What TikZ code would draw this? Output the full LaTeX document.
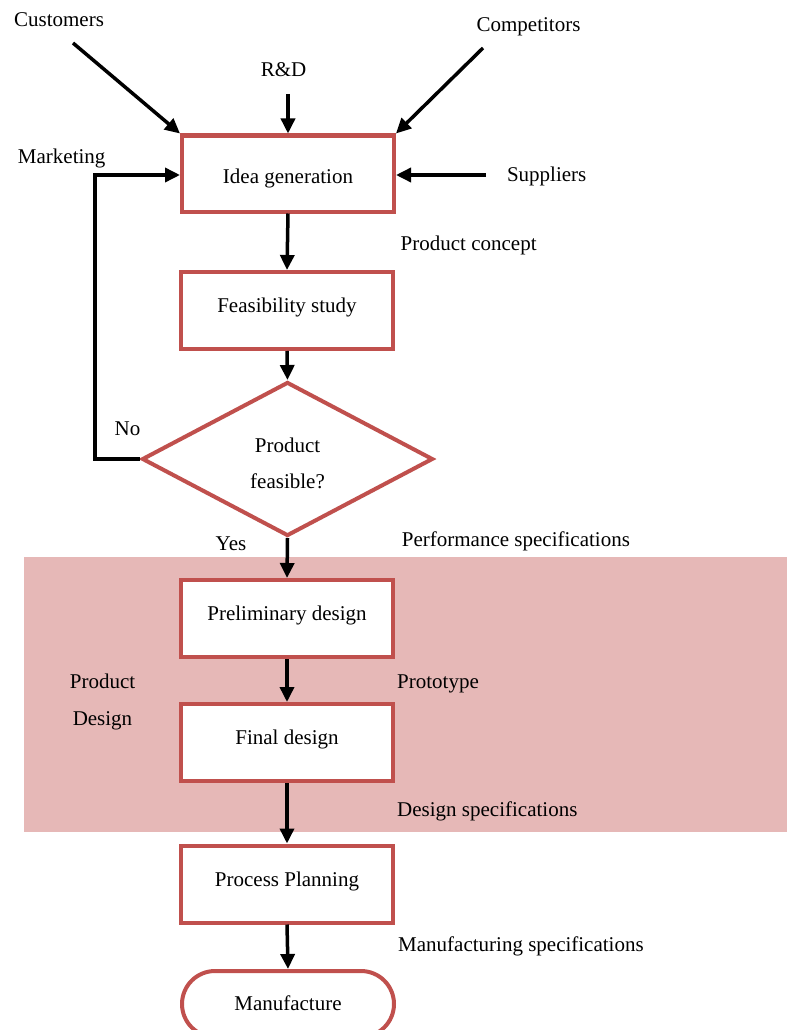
\documentclass[tikz,border=0pt]{standalone}
\usepackage{fontspec}
\setmainfont{Liberation Serif}
\usetikzlibrary{arrows.meta,shapes.geometric}
\definecolor{accentred}{HTML}{C0504D}
\definecolor{bandpink}{HTML}{E6B8B7}
\begin{document}
\begin{tikzpicture}[x=1pt,y=-1pt,
  every node/.style={font=\fontsize{21}{25}\selectfont},
  box/.style={draw=accentred, line width=4pt, fill=white, minimum width=212pt, minimum height=77pt, inner sep=0pt, text height=15pt, text depth=11pt},
  boxlow/.style={box, minimum height=76pt, text height=19pt, text depth=0pt},
  decision/.style={diamond, draw=accentred, line width=4pt, fill=white, minimum width=291pt, minimum height=154pt, inner sep=0pt, align=center},
  terminal/.style={draw=accentred, line width=4pt, fill=white, rounded corners=33pt, minimum width=212pt, minimum height=66pt, inner sep=0pt, text height=15pt, text depth=2pt},
  lbl/.style={inner sep=0pt, anchor=base},
  lbll/.style={inner sep=0pt, anchor=base west},
  arr/.style={draw=black, line width=3.5pt, -{Triangle[length=15pt,width=14pt]}}
]
\useasboundingbox (0,0) rectangle (787,1030);
\fill[bandpink] (24,557) rectangle (787,832);

% main flow nodes
\node[boxlow] (idea) at (288,173.5) {Idea generation};
\node[box] (feas) at (287,310.5) {Feasibility study};
\node[decision] (dec) at (287.5,459) {\rule{0pt}{23pt}Product\\[11pt]feasible?};
\node[box] (prelim) at (287,618.5) {Preliminary design};
\node[box] (final) at (287,742.5) {Final design};
\node[box] (proc) at (287,884) {Process Planning};
\node[terminal] (manu) at (288,1004) {Manufacture};

% input labels
\node[lbl] (customers) at (59,26.7) {Customers};
\node[lbl] (competitors) at (528.5,32) {Competitors};
\node[lbl] (rd) at (283.5,77) {R\&D};
\node[lbl] (marketing) at (61.7,163) {Marketing};
\node[lbl] (suppliers) at (546.7,181) {Suppliers};

\coordinate (custend) at (73,43);
\coordinate (compend) at (483,48);
\coordinate (rdend) at (288,94);
\coordinate (suppend) at (486,175);

% side labels
\node[lbll] (concept) at (400.5,250) {Product concept};
\node[lbl] (no) at (127.5,435.5) {No};
\node[lbl] (yes) at (231,550) {Yes};
\node[lbll] (perf) at (401.7,546.7) {Performance specifications};
\node[lbl] (pd1) at (102.5,688) {Product};
\node[lbl] (pd2) at (102.5,725) {Design};
\node[lbll] (proto) at (397,688.5) {Prototype};
\node[lbll] (dspec) at (397,816) {Design specifications};
\node[lbll] (mspec) at (398,951.7) {Manufacturing specifications};

% connectors
\draw[arr] (custend) -- (idea.north west);
\draw[arr] (compend) -- (idea.north east);
\draw[arr] (rdend) -- (idea.north);
\draw[arr] (suppend) -- (suppend -| idea.east);
\draw[arr] (dec.west) -- ++(-45,0) |- ([yshift=-1.5pt]idea.west);
\draw[arr] (idea.south) -- (feas.north);
\draw[arr] (feas.south) -- (dec.north);
\draw[arr] (dec.south) -- (prelim.north);
\draw[arr] (prelim.south) -- (final.north);
\draw[arr] (final.south) -- (proc.north);
\draw[arr] (proc.south) -- (manu.north);
\end{tikzpicture}
\end{document}
